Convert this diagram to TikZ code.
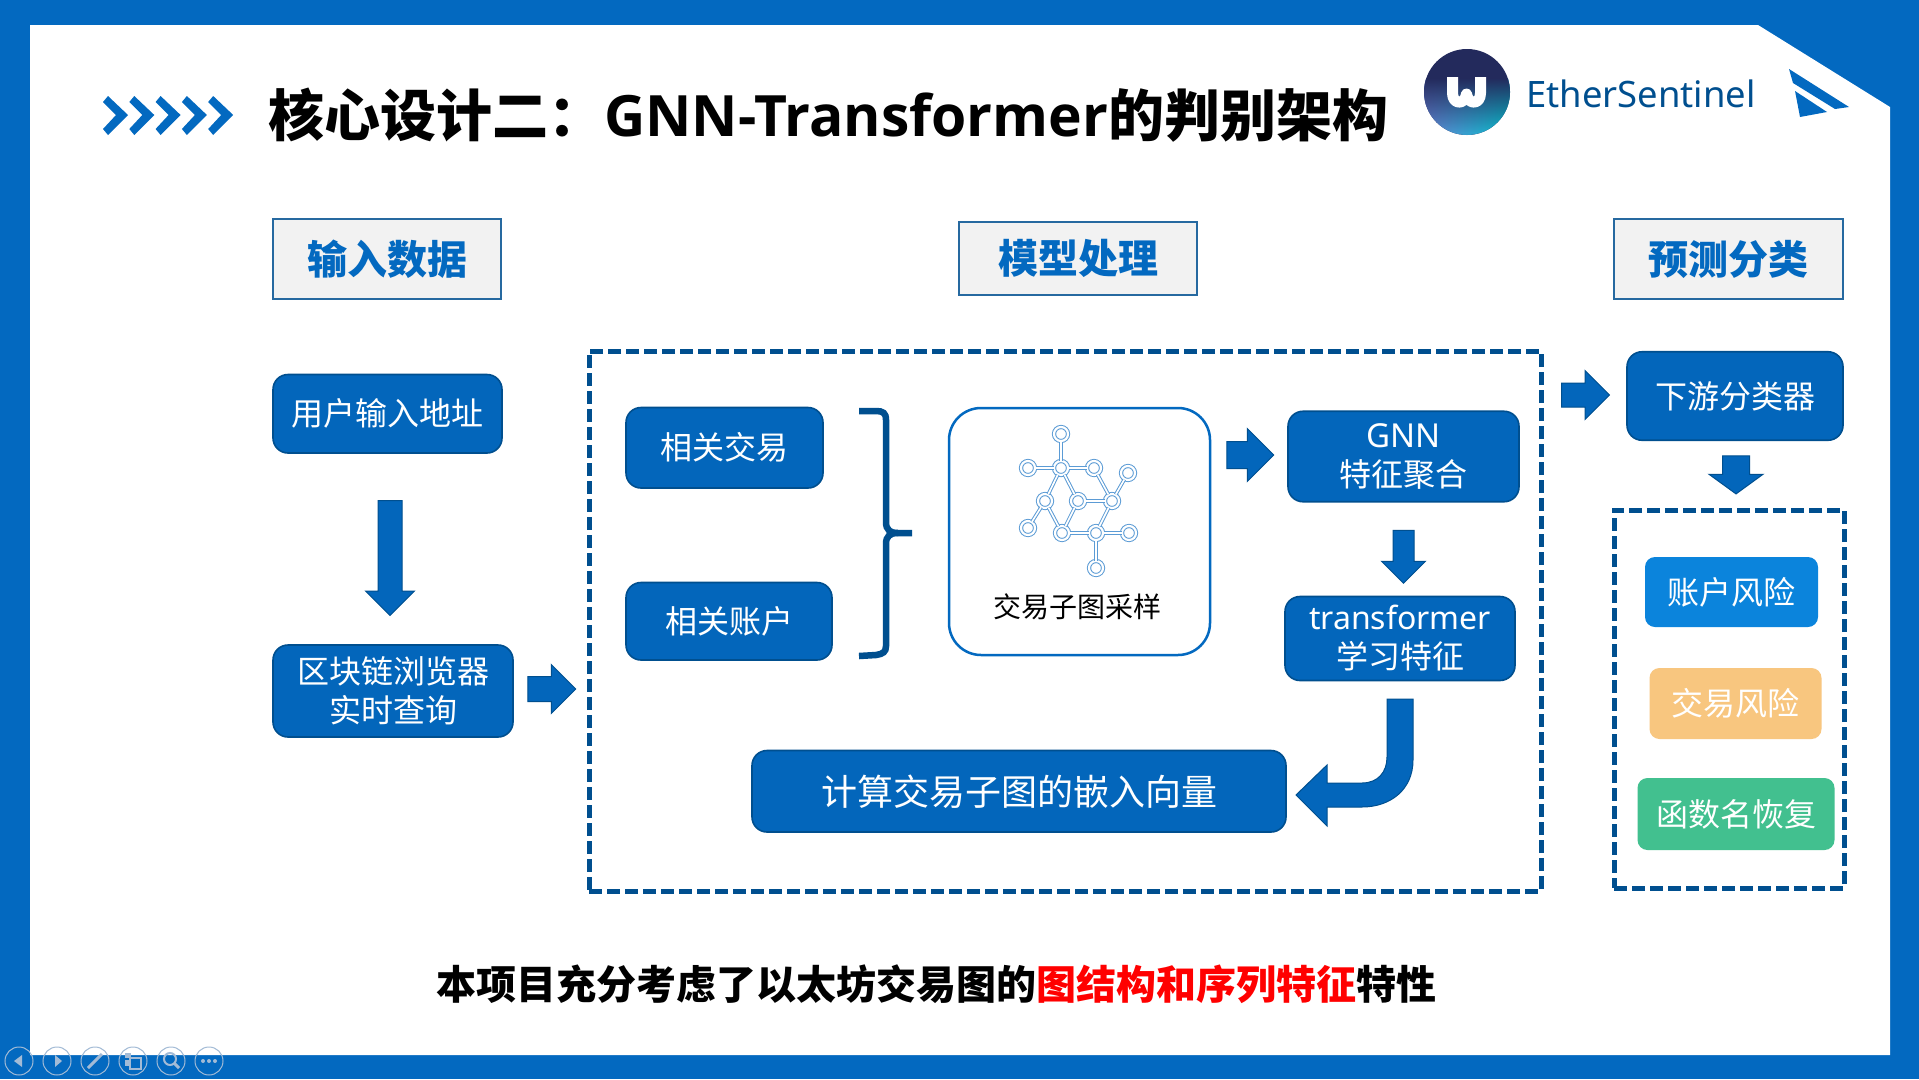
\documentclass[tikz,border=0pt]{standalone}
\usepackage{fontspec}
\setmainfont{Noto Sans CJK SC}
\newfontfamily\lat{Noto Sans}
\newfontfamily\latb{Open Sans}
\usetikzlibrary{shapes.arrows,fadings}
\definecolor{band}{HTML}{0369C0}
\definecolor{boxfill}{HTML}{0366BB}
\definecolor{deep}{HTML}{004F8F}
\definecolor{navc}{HTML}{A3BBD6}
\definecolor{gline}{HTML}{5B9BD5}
\definecolor{navy}{HTML}{232A5C}
\definecolor{logoa}{HTML}{6A7DD0}
\definecolor{logob}{HTML}{00C0C8}
\definecolor{softblue}{HTML}{0B84DC}
\definecolor{softorange}{HTML}{F8C67F}
\definecolor{softgreen}{HTML}{42C08F}
\newcommand{\fsz}[2]{\fontsize{#1}{#2}\selectfont}
\tikzfading[name=topfade,top color=transparent!0,middle color=transparent!40,bottom color=transparent!100]
\tikzset{
  x=1pt,y=-1pt,
  bluebox/.style={draw=deep,line width=1.6pt,fill=boxfill,rounded corners=15pt,text=white,align=center,inner sep=0pt,font=\fsz{32}{39}},
  softbox/.style={rounded corners=10pt,text=white,align=center,inner sep=0pt,font=\fsz{32}{39}},
  headbox/.style={draw=deep!85!white,line width=2pt,fill=black!5,text=band,inner sep=0pt,font=\fsz{40}{44}\bfseries},
  dashbox/.style={draw=deep,line width=5pt,dash pattern=on 13pt off 5pt,inner sep=0pt},
  blockarrow/.style={single arrow,draw=deep,line width=1pt,fill=boxfill,inner xsep=0pt,anchor=center},
  gnode/.style={circle,draw=gline,double=white,double distance=2.2pt,line width=1pt,fill=white,minimum size=14pt,inner sep=0pt},
  gedge/.style={draw=gline,line width=1pt,double=white,double distance=1.6pt},
  navring/.style={draw=navc,line width=1pt},
  navicon/.style={fill=navc},
  chev/.style={fill=band},
}
\begin{document}
\begin{tikzpicture}
\useasboundingbox (0,0) rectangle (1919,1079);
% frame
\fill[band] (0,0) rectangle (1919,1079);
\fill[white] (30,25) -- (1758,25) -- (1890,107) -- (1890,1055) -- (30,1055) -- cycle;
% chevrons
\foreach \d in {0,26.3,52.6,78.9,105.2}{
  \fill[chev,shift={(\d,0)}] (108,96) -- (128,115) -- (108,135) -- (103,129) -- (116,115) -- (103,102) -- cycle;
}
% title
\node[anchor=west,inner sep=0pt,font=\fsz{56}{60}\bfseries] (title) at (268,115.5) {核心设计二：{\latb\fsz{57}{60}\bfseries GNN-Transformer}的判别架构};
% logo
\begin{scope}
  \clip (1467,92) circle (43);
  \fill[navy] (1420,45) rectangle (1514,140);
  \shade[left color=logoa,right color=logob] (1420,78) rectangle (1514,140);
  \fill[navy,path fading=topfade] (1420,78) rectangle (1514,132);
\end{scope}
\draw[white,line width=11pt,line join=round] (1452.5,77) -- (1452.5,93) .. controls (1452.5,105) and (1465,105) .. (1466.5,94) .. controls (1468,105) and (1480.5,105) .. (1480.5,93) -- (1480.5,77);
\node[anchor=west,inner sep=0pt,text=deep,font=\lat\fsz{36.4}{42}] (brand) at (1526,94) {EtherSentinel};
\fill[band] (1789,69) -- (1849,107) -- (1835,109) -- (1793,83) -- cycle;
\fill[band] (1795,91) -- (1827,112) -- (1800,117) -- cycle;
% headers
\node[headbox,minimum width=228pt,minimum height=80pt] (h1) at (387,259) {输入数据};
\node[headbox,minimum width=238pt,minimum height=73pt] (h2) at (1078,258.5) {模型处理};
\node[headbox,minimum width=229pt,minimum height=80pt] (h3) at (1728.5,259) {预测分类};
% dashed groups
\node[dashbox,minimum width=952pt,minimum height=540pt] (d1) at (1065,621) {};
\node[dashbox,minimum width=230pt,minimum height=378pt] (d2) at (1729,699) {};
% left column
\node[bluebox,minimum width=229pt,minimum height=78.5pt] (u) at (387.5,413.75) {用户输入地址};
\node[bluebox,minimum width=240pt,minimum height=92pt] (b) at (393,691) {区块链浏览器\\实时查询};
\node[blockarrow,rotate=-90,minimum height=115pt,inner ysep=11.5pt,single arrow head extend=12.5pt] (a1) at (390,552) {};
\node[blockarrow,minimum height=48pt,inner ysep=12pt,single arrow head extend=12pt] (a2) at (545.5,689) {};
% middle
\node[bluebox,minimum width=197pt,minimum height=80.5pt] (rt) at (724.5,447.75) {相关交易};
\node[bluebox,minimum width=206pt,minimum height=77.5pt] (ra) at (729,621.25) {相关账户};
\draw[deep,line width=6.5pt] (859,411) -- (876,411) .. controls (883,411) and (886,413) .. (886,420) -- (886,522) .. controls (886,530) and (890,533) .. (898,533) -- (912,533);
\draw[deep,line width=6.5pt] (859,656) -- (876,655) .. controls (883,654) and (886,652) .. (886,646) -- (886,544) .. controls (886,536) and (890,533) .. (898,533);
\node[draw=band,line width=2.5pt,fill=white,rounded corners=32pt,minimum width=261pt,minimum height=247pt,inner sep=0pt] (s) at (1079.5,531.5) {};
% graph icon
\node[gnode] (n1) at (1061,434) {};
\node[gnode] (n2) at (1061,468) {};
\node[gnode] (n3) at (1028,468) {};
\node[gnode] (n4) at (1094,468) {};
\node[gnode] (n5) at (1128,473) {};
\node[gnode] (n6) at (1045,501) {};
\node[gnode] (n7) at (1078,501) {};
\node[gnode] (n8) at (1112,501) {};
\node[gnode] (n9) at (1028,528) {};
\node[gnode] (n10) at (1062,533) {};
\node[gnode] (n11) at (1096,533) {};
\node[gnode] (n12) at (1129,533) {};
\node[gnode] (n13) at (1096,568) {};
\foreach \p/\q in {n1/n2,n3/n2,n2/n4,n2/n6,n2/n7,n4/n8,n5/n8,n7/n8,n6/n9,n6/n10,n7/n10,n8/n11,n10/n11,n11/n12,n11/n13}{
  \draw[gedge] (\p) -- (\q);
}
\node[inner sep=0pt,font=\fsz{28}{32}] (slabel) at (1077,607) {交易子图采样};
\node[blockarrow,minimum height=47pt,inner ysep=13pt,single arrow head extend=13pt] (a3) at (1243.5,455) {};
\node[bluebox,minimum width=231pt,minimum height=90.5pt] (g) at (1403.5,456.5) {{\lat\fsz{33}{39}GNN}\\特征聚合};
\node[blockarrow,rotate=-90,minimum height=53pt,inner ysep=10pt,single arrow head extend=11.5pt] (a4) at (1403.5,551.5) {};
\node[bluebox,minimum width=230pt,minimum height=84pt] (t) at (1400,638.5) {{\lat\fsz{32}{39}transformer}\\学习特征};
\node[bluebox,minimum width=534pt,minimum height=81.5pt,font=\fsz{36}{40}] (c) at (1019,791.25) {计算交易子图的嵌入向量};
\coordinate (curvestart) at (1400,699);
\filldraw[draw=deep,line width=1pt,fill=boxfill] (curvestart) ++(-13,0) -- ++(26,0) -- (1413,760) .. controls (1413,790) and (1390,807) .. (1362,807) -- (1327,807) -- (1327,826) -- (1296,795) -- (1327,765) -- (1327,783) -- (1362,783) .. controls (1378,783) and (1387,772) .. (1387,757) -- cycle;
% right column
\node[blockarrow,minimum height=48pt,inner ysep=11.5pt,single arrow head extend=12.5pt] (a5) at (1579.5,395) {};
\node[bluebox,minimum width=216pt,minimum height=88.5pt] (ds) at (1735,396) {下游分类器};
\node[blockarrow,rotate=-90,minimum height=38pt,inner ysep=13pt,single arrow head extend=13.5pt,single arrow tip angle=108] (a6) at (1736,470) {};
\node[softbox,fill=softblue,minimum width=173pt,minimum height=70pt] (ar) at (1731.5,592) {账户风险};
\node[softbox,fill=softorange,minimum width=172pt,minimum height=71pt] (tr) at (1735.5,703.5) {交易风险};
\node[softbox,fill=softgreen,minimum width=197pt,minimum height=72pt] (fn) at (1736,814) {函数名恢复};
% bottom sentence
\node[inner sep=0pt,font=\fsz{40}{44}\bfseries] (bottom) at (936,984) {本项目充分考虑了以太坊交易图的\textcolor{red}{图结构和序列特征}特性};
% slide-show controls
\foreach \c in {19,57,95,133,171,209}{
  \draw[navring] (\c,1061) circle (14);
}
\fill[navicon] (14,1061) -- (22,1055) -- (22,1067) -- cycle;
\fill[navicon] (62,1061) -- (55,1055) -- (55,1067) -- cycle;
\draw[navc,line width=3pt] (88,1068) -- (102,1054);
\fill[navicon] (125,1053) rectangle (131,1058);
\fill[navicon] (125,1060) rectangle (129,1066);
\draw[navc,line width=1.5pt] (130,1058) rectangle (141,1069);
\draw[navc,line width=2pt] (170,1059) circle (6);
\draw[navc,line width=3pt] (174.5,1063.5) -- (179,1068);
\fill[navicon] (203,1061) circle (2);
\fill[navicon] (209,1061) circle (2);
\fill[navicon] (215,1061) circle (2);
\end{tikzpicture}
\end{document}
